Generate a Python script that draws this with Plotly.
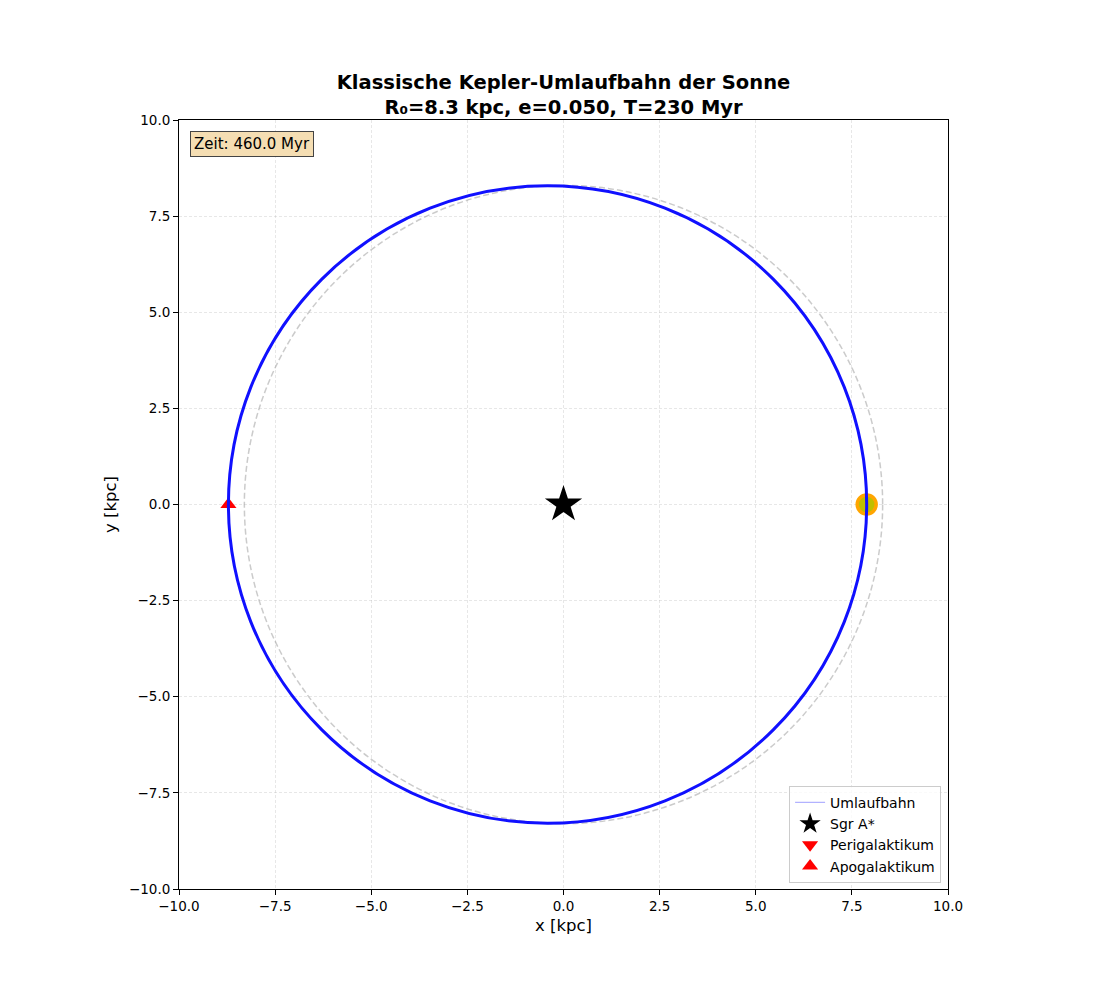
import plotly.graph_objects as go

# orbit parameters (from the title)
R0 = 8.3        # kpc
ecc = 0.050
period = 230    # Myr
time_now = 460.0

# ellipse bounds of the Kepler orbit [x_apo, x_peri], [y_min, y_max]
orbit_x = [-8.715, 7.885]
orbit_y = [-8.290, 8.290]

# reference circle with radius R0
circle_x = [-8.3, 8.3]
circle_y = [-8.3, 8.3]

# points
sgr_x, sgr_y = [0.0], [0.0]
peri_x, peri_y = [7.885], [0.0]
apo_x, apo_y = [-8.715], [0.0]
sun_x, sun_y = [7.885], [0.0]

ticks = [-10, -7.5, -5, -2.5, 0, 2.5, 5, 7.5, 10]
tick_text = ["\u221210.0", "\u22127.5", "\u22125.0", "\u22122.5", "0.0", "2.5", "5.0", "7.5", "10.0"]

FONT = "DejaVu Sans"


def build_figure():
    fig = go.Figure()

    # reference circle (dashed grey)
    fig.add_shape(type="circle", xref="x", yref="y",
                  x0=circle_x[0], x1=circle_x[1], y0=circle_y[0], y1=circle_y[1],
                  line=dict(color="rgba(160,160,160,0.55)", width=1.5, dash="6px,3px"),
                  layer="above")
    # orbit traced so far (thick blue)
    fig.add_shape(type="circle", xref="x", yref="y",
                  x0=orbit_x[0], x1=orbit_x[1], y0=orbit_y[0], y1=orbit_y[1],
                  line=dict(color="#1010ff", width=3),
                  layer="above")

    # legend entry for the thin orbit line
    fig.add_trace(go.Scatter(x=[None], y=[None], mode="lines", name="Umlaufbahn",
                             line=dict(color="rgba(0,0,255,0.3)", width=1.2)))

    fig.add_trace(go.Scatter(x=sgr_x, y=sgr_y, mode="markers", name="Sgr A*",
                             marker=dict(symbol="star", size=28, color="black")))
    fig.add_trace(go.Scatter(x=peri_x, y=peri_y, mode="markers", name="Perigalaktikum",
                             marker=dict(symbol="triangle-down", size=14, color="red")))
    fig.add_trace(go.Scatter(x=apo_x, y=apo_y, mode="markers", name="Apogalaktikum",
                             marker=dict(symbol="triangle-up", size=14, color="red")))
    # the sun
    fig.add_trace(go.Scatter(x=sun_x, y=sun_y, mode="markers", showlegend=False,
                             marker=dict(symbol="circle", size=19, color="#bfbf00",
                                         line=dict(color="#ffa500", width=3.5))))

    axis_common = dict(
        range=[-10, 10], tickvals=ticks, ticktext=tick_text,
        showline=True, linecolor="black", linewidth=1, mirror=True,
        ticks="outside", ticklen=5, tickcolor="black",
        showgrid=True, gridcolor="rgba(176,176,176,0.3)", griddash="3px,2px", gridwidth=1,
        zeroline=False, tickfont=dict(family=FONT, size=13.5, color="black"),
    )
    fig.update_xaxes(**axis_common,
                     title=dict(text="x [kpc]", font=dict(family=FONT, size=16.5, color="black"),
                                standoff=6))
    fig.update_yaxes(**axis_common,
                     title=dict(text="y [kpc]", font=dict(family=FONT, size=16.5, color="black"),
                                standoff=8))

    fig.add_annotation(xref="paper", yref="paper", x=0.0143, y=0.9857,
                       xanchor="left", yanchor="top", showarrow=False,
                       text=f"Zeit: {time_now:.1f} Myr",
                       font=dict(family=FONT, size=15, color="black"),
                       bgcolor="#f5deb3", bordercolor="#444444", borderwidth=1, borderpad=3)

    # page body adds 8px offset, so margins are shifted accordingly
    fig.update_layout(
        width=1100, height=1000,
        margin=dict(l=171, r=160, t=112, b=119),
        paper_bgcolor="white", plot_bgcolor="white",
        title=dict(text=f"<b>Klassische Kepler-Umlaufbahn der Sonne<br>"
                        f"R\u2080={R0} kpc, e={ecc:.3f}, T={period} Myr</b>",
                   x=0.5, xref="paper", xanchor="center",
                   y=0.919, yanchor="middle",
                   font=dict(family=FONT, size=19.5, color="black")),
        legend=dict(x=0.991, y=0.008, xanchor="right", yanchor="bottom",
                    bgcolor="rgba(255,255,255,0.8)", bordercolor="#cccccc", borderwidth=1,
                    font=dict(family=FONT, size=14, color="black"),
                    itemsizing="trace", tracegroupgap=0),
        showlegend=True,
    )
    return fig


if __name__ == "__main__":
    fig = build_figure()
    fig.write_html("out.html")
